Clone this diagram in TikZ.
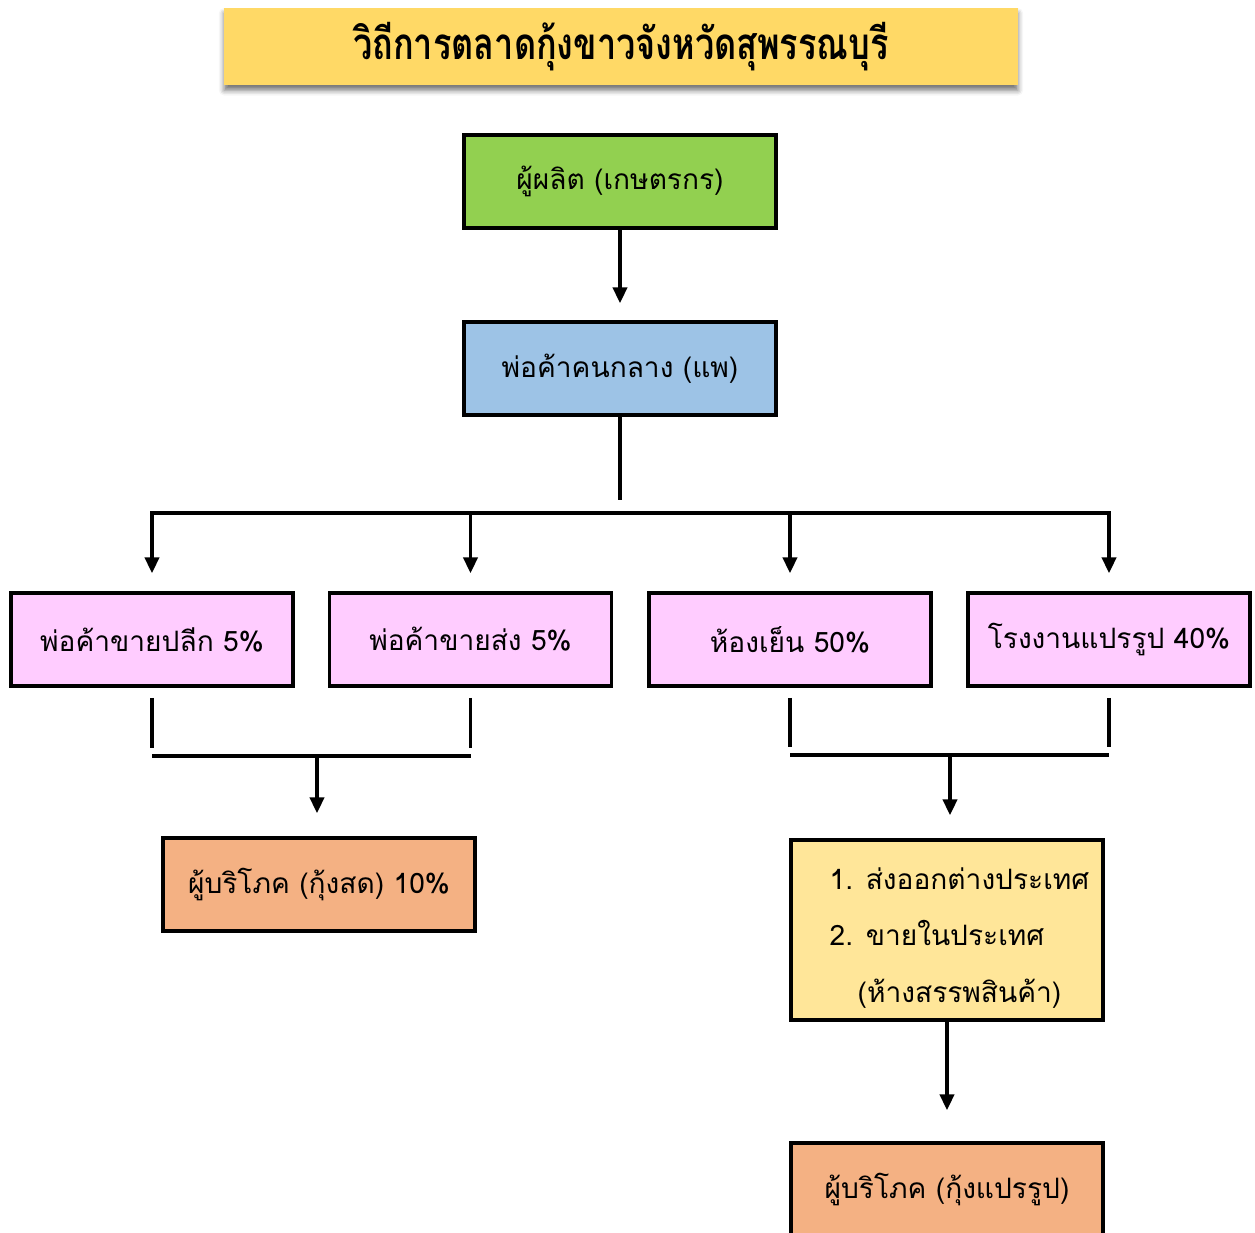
\documentclass[tikz,border=0pt]{standalone}
\usepackage{fontspec}
\newfontfamily\thaifont[Script=Thai]{Loma}
\newfontfamily\titlefont[Script=Thai, FakeStretch=0.78]{Loma}
\usetikzlibrary{arrows.meta,shadows.blur}

\definecolor{titlegold}{HTML}{FFD966}
\definecolor{farmgreen}{HTML}{92D050}
\definecolor{middleblue}{HTML}{9DC3E6}
\definecolor{sellerpink}{HTML}{FFCCFF}
\definecolor{consumerorange}{HTML}{F4B183}
\definecolor{tradeyellow}{HTML}{FFE699}

\tikzset{
  box/.style={draw, line width=2pt, minimum width=6.24cm, minimum height=1.86cm,
    font=\thaifont\fontsize{16}{19}\selectfont},
  pinkbox/.style={box, fill=sellerpink, minimum width=5.64cm},
  titlebox/.style={fill=titlegold, minimum width=15.88cm, minimum height=1.54cm,
    font=\titlefont\bfseries\fontsize{25}{30}\selectfont,
    blur shadow={shadow xshift=0pt, shadow yshift=-3pt, shadow blur radius=3pt,
      shadow opacity=55}},
  link/.style={line width=2pt},
  flow/.style={link, -{Triangle[width=8pt,length=9pt]}},
}

\begin{document}
\begin{tikzpicture}[x=0.02cm, y=-0.02cm]
  \useasboundingbox (0,0) rectangle (1255,1232);

  \node[titlebox] (title) at (621,46.5) {วิถีการตลาดกุ้งขาวจังหวัดสุพรรณบุรี};
  \node[box, fill=farmgreen] (farmer) at (620,181.5) {ผู้ผลิต (เกษตรกร)};
  \node[box, fill=middleblue] (middle) at (620,368.5) {พ่อค้าคนกลาง (แพ)};

  \node[pinkbox] (retail) at (152,639.5) {พ่อค้าขายปลีก 5\%};
  \node[pinkbox] (wholesale) at (470.5,639.5) {พ่อค้าขายส่ง 5\%};
  \node[pinkbox] (cold) at (790,639.5) {ห้องเย็น 50\%};
  \node[pinkbox] (factory) at (1109,639.5) {โรงงานแปรรูป 40\%};

  \node[box, fill=consumerorange] (fresh) at (319,884.5) {ผู้บริโภค (กุ้งสด) 10\%};
  \node[box, fill=tradeyellow, minimum height=3.6cm, align=left,
    font=\thaifont\fontsize{16}{32}\selectfont] (trade) at (947,930)
    {\hspace*{0.5cm}1. ส่งออกต่างประเทศ\rule{0pt}{0.75cm}\\\hspace*{0.5cm}2. ขายในประเทศ\\\hspace*{1.06cm}(ห้างสรรพสินค้า)};
  \node[box, fill=consumerorange] (processed) at (947,1189.5) {ผู้บริโภค (กุ้งแปรรูป)};

  \coordinate (split) at (620,500);
  \coordinate (bus) at (620,513);
  \coordinate (joinL) at (317,756);
  \coordinate (joinR) at (950,755);

  \draw[flow, shorten >=0.34cm] (farmer) -- (middle);
  \draw[link] (middle) -- (split);
  \foreach \n in {retail,wholesale,cold,factory}
    \draw[flow, shorten >=0.36cm] (bus) -| (\n);

  \foreach \n in {retail,wholesale}
    \draw[link, shorten <=0.2cm, shorten >=0.16cm] (\n) -- (\n |- joinL);
  \draw[link] (retail |- joinL) -- (wholesale |- joinL);
  \draw[flow, shorten >=0.46cm] (joinL) -- (joinL |- fresh.north);

  \foreach \n in {cold,factory}
    \draw[link, shorten <=0.2cm, shorten >=0.16cm] (\n) -- (\n |- joinR);
  \draw[link] (cold |- joinR) -- (factory |- joinR);
  \draw[flow, shorten >=0.46cm] (joinR) -- (joinR |- trade.north);

  \draw[flow, shorten >=0.62cm] (trade) -- (processed);
\end{tikzpicture}
\end{document}
